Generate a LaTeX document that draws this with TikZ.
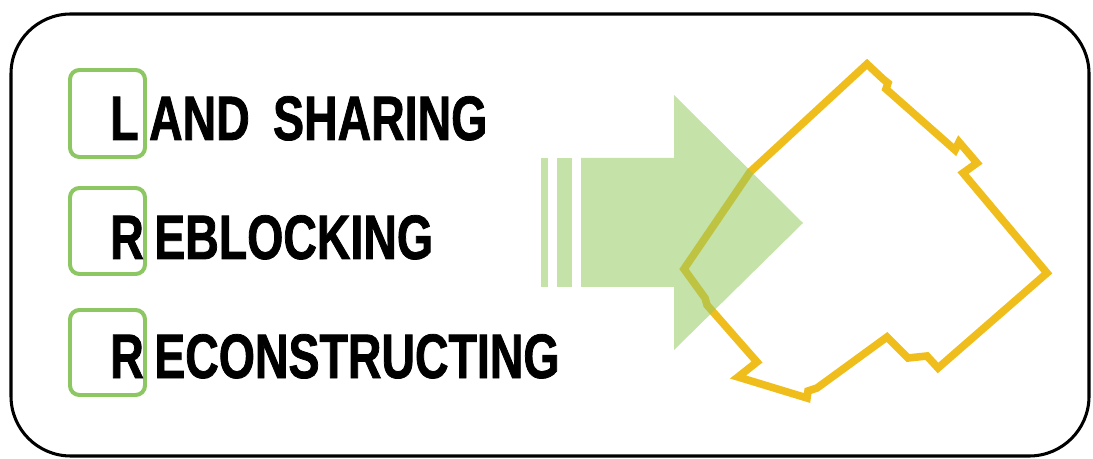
\documentclass[tikz,border=0pt]{standalone}
\usepackage{fontspec}
\usetikzlibrary{positioning}
\newfontfamily\dinfont[FakeStretch=0.74, BoldFeatures={FakeBold=1.2}]{Liberation Sans}

\definecolor{leafgreen}{RGB}{141,199,99}
\definecolor{arrowgreen}{RGB}{150,202,97}
\definecolor{plotyellow}{RGB}{240,190,28}

\tikzstyle{frame} = [draw=black, line width=2.6pt, rounded corners=51pt]
\tikzstyle{initbox} = [draw=leafgreen, line width=3.4pt, rounded corners=8pt]
\tikzstyle{letter} = [inner sep=0pt, anchor=base west, font=\dinfont\bfseries\fontsize{53.6}{60}\selectfont]
\tikzstyle{word} = [letter]
\tikzstyle{plot} = [draw=plotyellow, line width=6.5pt, line join=miter]
\tikzstyle{bigarrow} = [fill=arrowgreen, fill opacity=0.55]

\begin{document}
\begin{tikzpicture}[x=0.03cm, y=-0.03cm, node distance=0.3cm]
\useasboundingbox (0,0) rectangle (1093,459);

%% Outer frame
\draw [frame] (11,14) rectangle (1089,456);

%% Initial boxes
\draw [initbox] (70,70) rectangle (145,157);
\draw [initbox] (70,188) rectangle (145,274);
\draw [initbox] (70,310) rectangle (145,395);

%% Words
\node (ini_lan) [letter] at (110,140) {L};
\node (ini_reb) [letter] at (110,259) {R};
\node (ini_rec) [letter] at (110,378) {R};
\node (wrd_lan) [word, base right=of ini_lan] {AND\hspace{0.7cm}SHARING};
\node (wrd_reb) [word, base right=of ini_reb] {EBLOCKING};
\node (wrd_rec) [word, base right=of ini_rec] {ECONSTRUCTING};

%% Site outline
\draw [plot] (867,64) -- (883,79) -- (888,83) -- (886,89) -- (955,150)
  -- (959,142) -- (977,163) -- (963,173) -- (1047,273) -- (938,368)
  -- (927,356) -- (908,358) -- (887,337) -- (817,388) -- (808,391)
  -- (807,398) -- (738,377) -- (757,362) -- (707,305) -- (705,298)
  -- (684,269) -- (750,172) -- cycle;

%% Arrow
\fill [bigarrow] (541,158) rectangle (548,287);
\fill [bigarrow] (557,158) rectangle (572,287);
\fill [bigarrow] (581,158) -- (674,158) -- (674,95) -- (803,223)
  -- (674,350) -- (674,287) -- (581,287) -- cycle;
\end{tikzpicture}
\end{document}
